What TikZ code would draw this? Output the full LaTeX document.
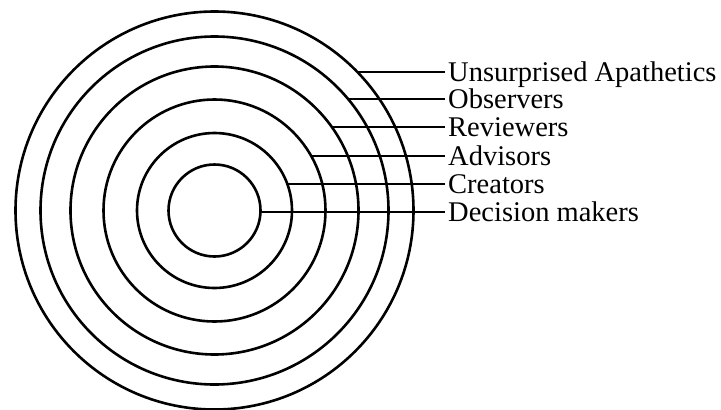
\documentclass[tikz,border=0pt]{standalone}
\usepackage{fontspec}
\setmainfont{Liberation Serif}

\tikzset{
    ring/.style={line width=2.6pt},
    lead/.style={line width=1.3pt},
    tag/.style={anchor=west, inner xsep=3pt, inner ysep=0pt,
        text height=19pt, text depth=0pt,
        font=\fontsize{28.5}{30}\selectfont}
}

\begin{document}
\begin{tikzpicture}[x=1pt,y=-1pt]
\useasboundingbox (0,0) rectangle (721,410);

% ===== Centre of the rings =====
\coordinate (O) at (214.5,210.5);

% ===== Rings =====
\foreach \r in {46,77.5,111,144,174,199} {
    \draw[ring] (O) circle[radius=\r pt];
}

% ===== Labels and leader lines =====
\foreach \r/\y/\name/\txt in {46/212/dm/Decision makers,
                               77.5/184/cr/Creators,
                               111/156/ad/Advisors,
                               144/127/rv/Reviewers,
                               174/99/ob/Observers,
                               199/72/ua/Unsurprised Apathetics} {
    \node[tag] (\name) at (445,\y) {\txt};
    \pgfmathsetmacro\sx{214.5+10*sqrt((\r/10)^2-((210.5-\y)/10)^2)}
    \coordinate (\name-s) at (\sx,\y);
    \draw[lead] (\name-s) -- (\name.west);
}

\end{tikzpicture}
\end{document}
